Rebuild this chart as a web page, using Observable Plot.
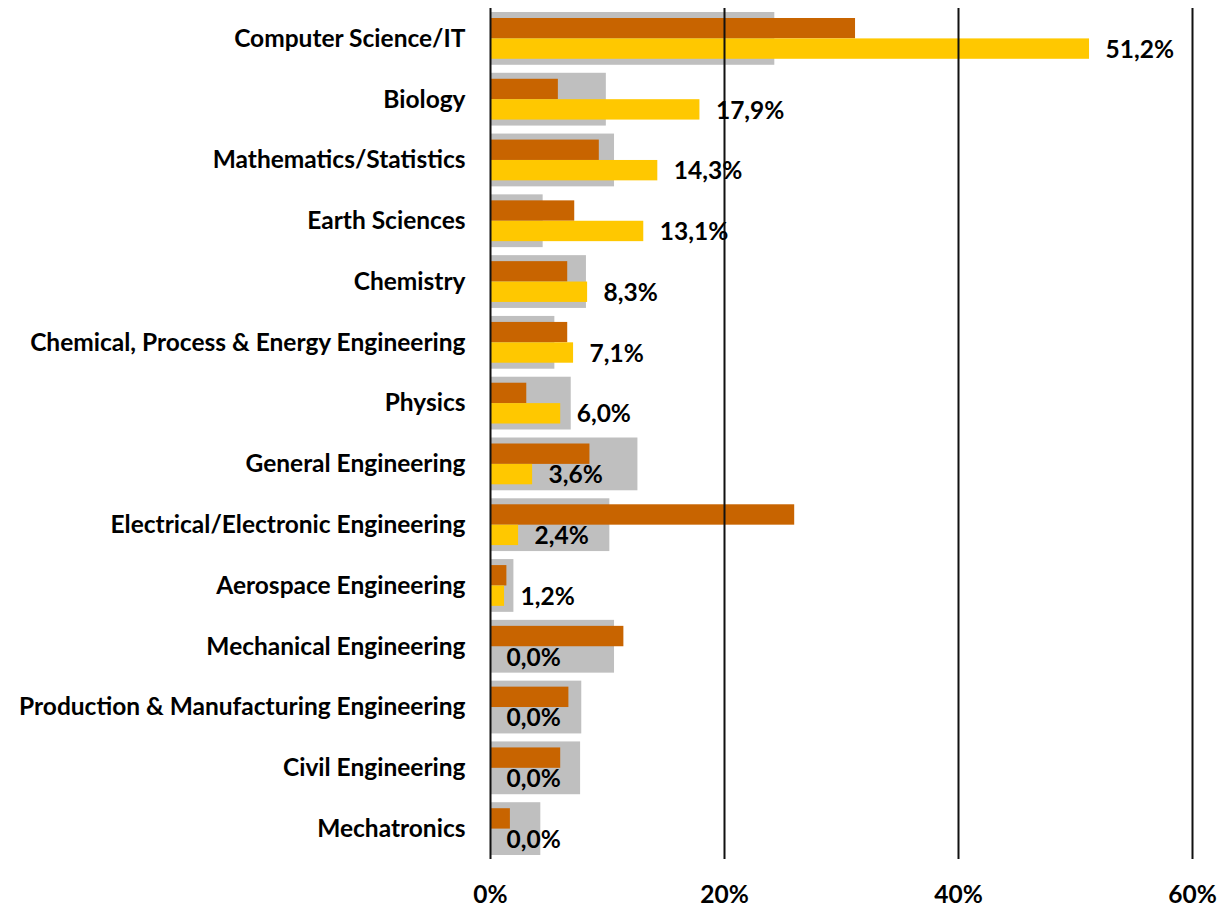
<!DOCTYPE html>
<html>
<head>
<meta charset="utf-8">
<script src="https://cdn.jsdelivr.net/npm/d3@7"></script>
<script src="https://cdn.jsdelivr.net/npm/@observablehq/plot@0.6"></script>
<style>
  html, body { margin: 0; padding: 0; background: #fff; }
</style>
</head>
<body>
<div id="chart"></div>
<script>
const categories = [
  "Computer Science/IT",
  "Biology",
  "Mathematics/Statistics",
  "Earth Sciences",
  "Chemistry",
  "Chemical, Process & Energy Engineering",
  "Physics",
  "General Engineering",
  "Electrical/Electronic Engineering",
  "Aerospace Engineering",
  "Mechanical Engineering",
  "Production & Manufacturing Engineering",
  "Civil Engineering",
  "Mechatronics"
];
const grayValues   = [24.3, 9.9, 10.6, 4.5, 8.2, 5.5, 6.9, 12.6, 10.2, 2.0, 10.6, 7.8, 7.7, 4.3];
const orangeValues = [31.2, 5.8, 9.3, 7.2, 6.6, 6.6, 3.1, 8.5, 26.0, 1.4, 11.4, 6.7, 6.0, 1.7];
const yellowValues = [51.2, 17.9, 14.3, 13.1, 8.3, 7.1, 6.0, 3.6, 2.4, 1.2, 0.0, 0.0, 0.0, 0.0];
const xTicks = [0, 20, 40, 60];

const rows = categories.map((c, i) => ({
  category: c,
  gray: grayValues[i],
  orange: orangeValues[i],
  yellow: yellowValues[i]
}));

const fmt = v => v.toFixed(1).replace(".", ",") + "%";

const chart = Plot.plot({
  width: 1221,
  height: 907,
  marginTop: 8,
  marginBottom: 48,
  marginLeft: 490,
  marginRight: 29,
  style: {
    fontFamily: "Lato, 'Open Sans', sans-serif",
    fontWeight: "bold",
    fontSize: "24.5px",
    color: "#000",
    background: "#fff"
  },
  x: { domain: [0, 60], axis: null, label: null },
  y: { domain: categories, padding: 0, round: false, axis: null, label: null },
  marks: [
    Plot.barX(rows, { x: "gray", y: "category", fill: "#BFBFBF", insetTop: 4, insetBottom: 4 }),
    Plot.barX(rows, { x: "orange", y: "category", fill: "#C86400", insetTop: 10, insetBottom: 30.4 }),
    Plot.barX(rows, { x: "yellow", y: "category", fill: "#FFC800", insetTop: 30.4, insetBottom: 10 }),
    Plot.ruleX(xTicks, { stroke: "#111", strokeWidth: 2 }),
    Plot.text(rows, {
      x: "yellow", y: "category", text: d => fmt(d.yellow),
      dx: 16, dy: 11, textAnchor: "start", fill: "#000",
      fontSize: 24.5, fontWeight: "bold"
    }),
    Plot.axisY({ domain: categories, tickSize: 0, tickPadding: 25, fontSize: 24.5, fontWeight: "bold", fill: "#000", label: null }),
    Plot.axisX({ ticks: xTicks, tickSize: 0, tickPadding: 26, tickFormat: d => d + "%", fontSize: 24.5, fontWeight: "bold", fill: "#000", label: null })
  ]
});

document.getElementById("chart").appendChild(chart);
</script>
</body>
</html>
